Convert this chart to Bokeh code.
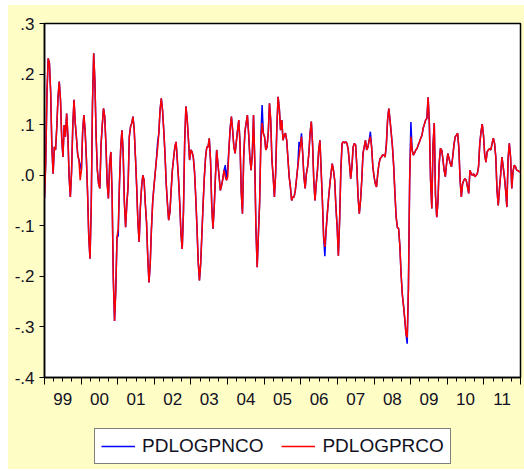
import pandas as pd
from bokeh.plotting import figure
from bokeh.layouts import column
from bokeh.models import (LinearAxis, FixedTicker, CustomJSTickFormatter, Range1d,
                          Legend, LegendItem, ColumnDataSource)
from bokeh.embed import file_html
from bokeh.resources import INLINE

# PDLOGPRCO, split by period
prco_1999_2002 = [-0.045, 0.024, 0.162, 0.231, 0.222, 0.165, 0.056, 0.003, 0.056, 0.050,
                  0.096, 0.155, 0.185, 0.149, 0.073, 0.036, 0.099, 0.076, 0.122, 0.079,
                  -0.003, -0.043, 0.007, 0.099, 0.149, 0.103, 0.073, 0.040, 0.030, -0.010,
                  0.010, 0.086, 0.119, 0.089, 0.036, -0.033, -0.122, -0.165, -0.063, 0.139,
                  0.241, 0.185, 0.076, 0.010, -0.017, -0.026, 0.060, 0.099, 0.132, 0.116,
                  0.060, -0.017, -0.046, 0.023, 0.046, -0.036, -0.205, -0.288, -0.228, -0.122,
                  -0.106, -0.017, 0.053, 0.089, 0.046, -0.053, -0.103, -0.056, -0.023, 0.076,
                  0.096, 0.103, 0.116, 0.089, 0.036, -0.023, -0.093, -0.132, -0.063, -0.023,
                  0.000, -0.010, -0.056, -0.093, -0.162, -0.212, -0.175, -0.106, -0.053, -0.023,
                  0.003, 0.030, 0.053, 0.083, 0.129, 0.152, 0.129, 0.089, 0.043]
prco_2002_2005 = [-0.017, -0.056, -0.089, -0.073, -0.030, 0.010, 0.033, 0.056, 0.066, 0.030,
                  -0.007, -0.056, -0.116, -0.146, -0.073, 0.066, 0.136, 0.112, 0.073, 0.030,
                  0.050, 0.046, 0.036, 0.007, -0.043, -0.103, -0.172, -0.208, -0.175, -0.116,
                  -0.056, -0.003, 0.036, 0.056, 0.056, 0.073, 0.030, -0.060, -0.106, -0.063,
                  -0.003, 0.050, 0.023, -0.003, -0.030, -0.020, -0.007, 0.010, -0.003, -0.010,
                  -0.003, 0.053, 0.093, 0.116, 0.089, 0.056, 0.043, 0.066, 0.089, 0.109,
                  0.063, -0.033, -0.076, 0.036, 0.086, 0.103, 0.119, 0.083, 0.036, 0.010,
                  0.040, 0.119, 0.030, -0.109, -0.182, -0.116, -0.053, 0.063, 0.103, 0.083,
                  0.076, 0.050, 0.056, 0.083, 0.142, 0.109, 0.030, -0.003, -0.043, 0.003,
                  0.096, 0.155, 0.132, 0.089, 0.109]
prco_2005_2008 = [0.069, 0.079, 0.083, 0.069, 0.033, -0.003, -0.023, -0.050, -0.043, -0.043,
                  -0.030, -0.007, 0.017, 0.036, 0.056, 0.076, 0.043, -0.003, -0.026, 0.003,
                  0.017, 0.043, 0.083, 0.106, 0.063, -0.010, -0.050, -0.017, 0.010, 0.050,
                  0.069, 0.010, -0.050, -0.122, -0.142, -0.109, -0.076, -0.046, -0.020, 0.003,
                  0.023, 0.010, -0.010, -0.063, -0.103, -0.159, -0.089, 0.010, 0.063, 0.066,
                  0.064, 0.066, 0.063, 0.050, 0.023, -0.007, 0.017, 0.056, 0.063, 0.060,
                  0.017, -0.043, -0.076, -0.050, -0.010, 0.043, 0.056, 0.069, 0.050, 0.056,
                  0.069, 0.076, 0.056, 0.017, -0.003, -0.017, -0.023, 0.003, 0.023, 0.033,
                  0.036, 0.040, 0.040, 0.036, 0.060, 0.109, 0.132, 0.109, 0.083, 0.056,
                  0.017, -0.036, -0.083, -0.103, -0.106, -0.139]
prco_2008_2011 = [-0.195, -0.235, -0.258, -0.284, -0.314, -0.321, -0.222, -0.010, 0.076, 0.050,
                  0.040, 0.044, 0.050, 0.053, 0.060, 0.066, 0.073, 0.079, 0.093, 0.101,
                  0.109, 0.112, 0.154, 0.103, -0.010, -0.066, 0.060, 0.103, -0.040, -0.083,
                  -0.053, 0.023, 0.053, 0.050, 0.033, 0.010, -0.003, 0.023, 0.043, 0.033,
                  0.023, 0.017, 0.036, 0.060, 0.076, 0.079, 0.083, 0.053, -0.010, -0.043,
                  -0.017, -0.010, -0.007, -0.010, -0.023, -0.036, 0.010, 0.003, 0.000, 0.003,
                  -0.003, 0.000, 0.003, 0.017, 0.063, 0.086, 0.101, 0.079, 0.040, 0.026,
                  0.046, 0.050, 0.053, 0.050, 0.063, 0.073, 0.063, 0.036, -0.030, -0.060,
                  -0.026, 0.003, 0.036, 0.017, -0.003, -0.030, -0.063, 0.033, 0.063, 0.036,
                  -0.026, 0.007, 0.020, 0.017, 0.010, 0.009, 0.007, 0.007]

pnco_differences = {29: 0.020, 60: -0.120, 92: 0.065, 147: 0.020, 149: 0.015,
                    176: 0.076, 177: 0.139, 207: 0.066, 209: 0.083, 228: -0.160,
                    265: 0.086, 295: -0.333, 298: 0.105}

sample_start = "1999-01-01"
sample_end = "2011-12-31"
year_labels = ["99", "00", "01", "02", "03", "04", "05", "06", "07", "08", "09", "10", "11"]
first_year = 1999
legend_names = ["PDLOGPNCO", "PDLOGPRCO"]

pdlogprco = prco_1999_2002 + prco_2002_2005 + prco_2005_2008 + prco_2008_2011
pdlogpnco = list(pdlogprco)
for i, v in pnco_differences.items():
    pdlogpnco[i] = v

dates = pd.date_range(sample_start, sample_end, periods=len(pdlogprco))
ystart = pd.to_datetime(dates.year.astype(str) + "-01-01")
yend = pd.to_datetime((dates.year + 1).astype(str) + "-01-01")
xdec = list(dates.year + (dates - ystart) / (yend - ystart))

src = ColumnDataSource(dict(x=xdec, pnco=pdlogpnco, prco=pdlogprco))

YELLOW = "#FFFDC6"
FONT = "Liberation Sans"
TXT = "#111122"
BLUE = "#0000FF"
RED = "#FF0000"

n_years = len(year_labels)
p = figure(frame_width=476, frame_height=354, output_backend="svg", toolbar_location=None,
           x_axis_type=None, y_axis_type=None,
           x_range=Range1d(first_year, first_year + n_years),
           y_range=Range1d(-0.4, 0.3))
p.margin = 0
p.min_border_left = 36
p.min_border_right = 4
p.min_border_top = 18
p.min_border_bottom = 50
p.border_fill_color = YELLOW
p.background_fill_color = "white"
p.outline_line_color = "black"
p.outline_line_width = 1.5
p.xgrid.visible = False
p.ygrid.visible = False

# y axis
yax = LinearAxis(ticker=FixedTicker(ticks=[-0.4, -0.3, -0.2, -0.1, 0.0, 0.1, 0.2, 0.3], minor_ticks=[]),
                 formatter=CustomJSTickFormatter(code="return tick.toFixed(1).replace('0.', '.');"))
yax.major_tick_out = 5
yax.major_tick_in = 0
yax.minor_tick_out = 0
yax.major_label_standoff = 5
yax.axis_line_color = "black"
yax.axis_line_width = 1.5
yax.major_tick_line_color = "black"
yax.major_label_text_font = FONT
yax.major_label_text_font_size = "17px"
yax.major_label_text_color = TXT
p.add_layout(yax, "left")

# x axis: ticks at year boundaries, quarterly minor ticks, no labels
years = list(range(first_year, first_year + n_years + 1))
quarters = [y + q / 4 for y in years[:-1] for q in range(1, 4)]
xax = LinearAxis(ticker=FixedTicker(ticks=years, minor_ticks=quarters),
                 formatter=CustomJSTickFormatter(code="return '';"))
xax.major_tick_out = 7
xax.major_tick_in = 0
xax.minor_tick_out = 4
xax.minor_tick_in = 0
xax.major_label_text_font_size = "0px"
xax.major_label_standoff = 0
xax.axis_line_color = "black"
xax.axis_line_width = 1.5
p.add_layout(xax, "below")

# x labels centred in each year
mid = [first_year + i + 0.5 for i in range(n_years)]
lab_map = {str(first_year + i): lab for i, lab in enumerate(year_labels)}
xlab = LinearAxis(ticker=FixedTicker(ticks=mid, minor_ticks=[]),
                  formatter=CustomJSTickFormatter(args=dict(m=lab_map),
                                                  code="return m[String(Math.floor(tick))];"))
xlab.axis_line_color = None
xlab.major_tick_line_color = None
xlab.major_tick_out = 0
xlab.major_tick_in = 0
xlab.minor_tick_line_color = None
xlab.major_label_standoff = 8
xlab.major_label_text_font = FONT
xlab.major_label_text_font_size = "17px"
xlab.major_label_text_color = TXT
p.add_layout(xlab, "below")

p.line("x", "pnco", source=src, line_color=BLUE, line_width=1.5)
p.line("x", "prco", source=src, line_color=RED, line_width=1.5)

# legend strip under the chart (key renderers sit outside its visible range)
lf = figure(frame_width=516, frame_height=42, output_backend="svg", toolbar_location=None,
            x_axis_type=None, y_axis_type=None,
            x_range=Range1d(0, 1), y_range=Range1d(0, 1))
lf.margin = 0
lf.min_border = 0
lf.min_border_left = 0
lf.min_border_right = 0
lf.min_border_top = 0
lf.min_border_bottom = 0
lf.outline_line_color = None
lf.background_fill_color = YELLOW
lf.border_fill_color = YELLOW
lf.xgrid.visible = False
lf.ygrid.visible = False
kb = lf.line(x=[-3, -2], y=[-3, -2], line_color=BLUE, line_width=1.5)
kr = lf.line(x=[-3, -2], y=[-3, -2], line_color=RED, line_width=1.5)

legend = Legend(items=[LegendItem(label=legend_names[0], renderers=[kb]),
                       LegendItem(label=legend_names[1], renderers=[kr])],
                orientation="horizontal", location=(86, 5))
legend.border_line_color = "black"
legend.border_line_width = 1.5
legend.background_fill_color = "white"
legend.background_fill_alpha = 1.0
legend.label_text_font = FONT
legend.label_text_font_size = "19px"
legend.label_text_color = TXT
legend.glyph_width = 34
legend.glyph_height = 20
legend.label_height = 20
legend.label_standoff = 7
legend.spacing = 18
legend.padding = 6
legend.margin = 0
lf.add_layout(legend)

page = column(p, lf, spacing=0)
page.margin = (5, 0, 2, 8)
page.background = YELLOW

open("out.html", "w").write(file_html(page, INLINE))
